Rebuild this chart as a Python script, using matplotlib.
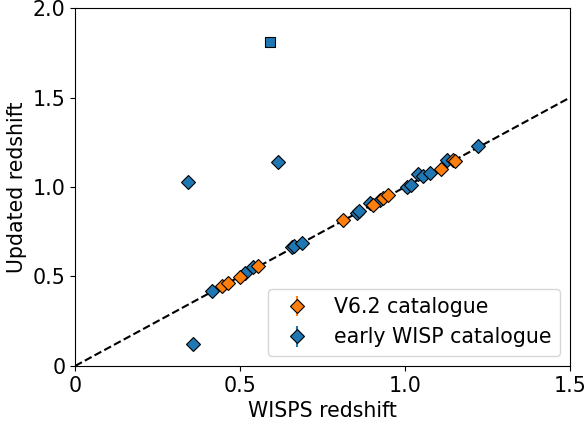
import numpy as np
import matplotlib
matplotlib.use('Agg')
import matplotlib.pyplot as plt

# early WISP catalogue (blue)
wisp_x = [0.342, 0.358, 0.615, 0.415, 0.515, 0.54, 0.658, 0.664, 0.688, 0.854, 0.861,
          0.894, 0.924, 1.006, 1.018, 1.04, 1.055, 1.076, 1.127, 1.221]
wisp_y = [1.03, 0.123, 1.14, 0.419, 0.52, 0.553, 0.665, 0.67, 0.687, 0.855, 0.866,
          0.91, 0.93, 1.0, 1.01, 1.07, 1.06, 1.08, 1.15, 1.229]
# V6.2 catalogue (orange)
v62_x = [0.445, 0.464, 0.5, 0.555, 0.812, 0.903, 0.933, 0.948, 1.109, 1.145, 1.152]
v62_y = [0.447, 0.464, 0.497, 0.559, 0.815, 0.90, 0.94, 0.955, 1.10, 1.15, 1.145]
# odd one out, drawn as a square
sq_x = [0.59]
sq_y = [1.81]
err = 0.01

plt.rcParams['font.size'] = 14.8
fig = plt.figure(figsize=(5.87, 4.25), dpi=100)
ax = fig.add_axes([0.128, 0.139, 0.843, 0.842])

ax.plot([0, 1.5], [0, 1.5], 'k--', zorder=1)
ax.errorbar(v62_x, v62_y, yerr=err, fmt='D', color='C1', mec='k', mew=0.8,
            ms=7.5, label='V6.2 catalogue', zorder=3)
ax.errorbar(wisp_x, wisp_y, yerr=err, fmt='D', color='C0', mec='k', mew=0.8,
            ms=7.5, label='early WISP catalogue', zorder=2)
ax.errorbar(sq_x, sq_y, yerr=err, fmt='s', color='C0', mec='k', mew=0.8, ms=7, zorder=2)

ax.set_xlim(0, 1.5)
ax.set_ylim(0, 2.0)
ax.set_xticks([0, 0.5, 1.0, 1.5])
ax.set_xticklabels(['0', '0.5', '1.0', '1.5'])
ax.set_yticks([0, 0.5, 1.0, 1.5, 2.0])
ax.set_yticklabels(['0', '0.5', '1.0', '1.5', '2.0'])
ax.set_xlabel('WISPS redshift')
ax.set_ylabel('Updated redshift')
ax.legend(loc='lower right')

fig.savefig('out.png', dpi=100)
